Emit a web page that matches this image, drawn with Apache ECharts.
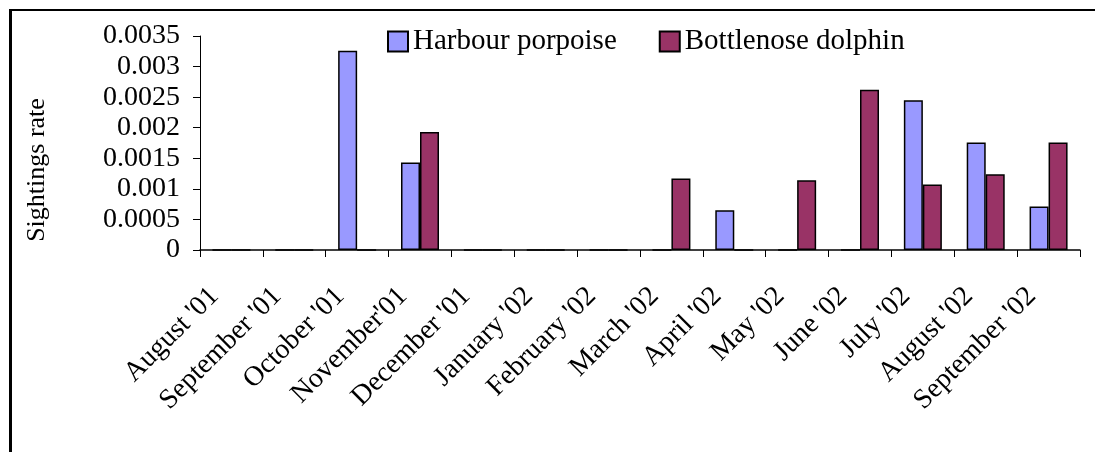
<!DOCTYPE html>
<html>
<head>
<meta charset="utf-8">
<script src="https://cdn.jsdelivr.net/npm/echarts@6/dist/echarts.min.js"></script>
<style>
    html, body { margin: 0; padding: 0; background: #fff; }
    #frame {
        position: absolute; left: 9px; top: 9px; width: 1100px; height: 460px;
        border-top: 2px solid #000; border-left: 3px solid #000;
    }
    #chart { position: absolute; left: 0; top: 0; width: 1095px; height: 452px; }
</style>
</head>
<body>
<div id="frame"></div>
<div id="chart"></div>
<script>
const months = ["August '01", "September '01", "October '01", "November'01", "December '01",
    "January '02", "February '02", "March '02", "April '02", "May '02", "June '02",
    "July '02", "August '02", "September '02"];
const porpoise = [0, 0, 0.00326, 0.00143, 0, 0, 0, 0, 0.00065, 0, 0, 0.00245, 0.00176, 0.00071];
const dolphin = [0, 0, 0, 0.00193, 0, 0, 0, 0.00117, 0, 0.00114, 0.00262, 0.00107, 0.00124, 0.00176];

const serif = '"Liberation Serif", "Times New Roman", serif';

function init() {
    const chart = echarts.init(document.getElementById('chart'), null, {renderer: 'canvas'});
    const option = {
        animation: false,
        textStyle: { fontFamily: serif, color: '#000' },
        legend: {
            left: 382,
            top: 22,
            itemWidth: 20,
            itemHeight: 20,
            itemGap: 42,
            icon: 'rect',
            textStyle: { fontFamily: serif, fontSize: 29, color: '#000' },
            data: ['Harbour porpoise', 'Bottlenose dolphin']
        },
        grid: { left: 200, right: 15, top: 36, bottom: 202 },
        xAxis: {
            type: 'category',
            data: months,
            boundaryGap: true,
            axisLine: { lineStyle: { color: '#000', width: 1.5 } },
            axisTick: { show: true, length: 7, interval: 0, lineStyle: { color: '#000', width: 1 } },
            axisLabel: {
                interval: 0,
                rotate: 45,
                margin: 25,
                padding: [0, 24, 0, 0],
                fontFamily: serif,
                fontSize: 28,
                color: '#000'
            }
        },
        yAxis: {
            type: 'value',
            min: 0,
            max: 0.0035,
            interval: 0.0005,
            name: 'Sightings rate',
            nameLocation: 'middle',
            nameRotate: 90,
            nameGap: 150,
            nameTextStyle: { fontFamily: serif, fontSize: 26, color: '#000', padding: [0, 54, 0, 0] },
            axisLine: { show: true, lineStyle: { color: '#000', width: 1 } },
            axisTick: { show: true, length: 7, lineStyle: { color: '#000' } },
            splitLine: { show: false },
            axisLabel: { margin: 20, fontFamily: serif, fontSize: 28, color: '#000' }
        },
        series: [
            {
                name: 'Harbour porpoise',
                type: 'bar',
                data: porpoise,
                barWidth: 19,
                barGap: '0%',
                itemStyle: { color: '#9999FF', borderColor: '#000', borderWidth: 1.5 }
            },
            {
                name: 'Bottlenose dolphin',
                type: 'bar',
                data: dolphin,
                barWidth: 19,
                barGap: '0%',
                itemStyle: { color: '#993366', borderColor: '#000', borderWidth: 1.5 }
            }
        ]
    };
    chart.setOption(option);
}

init();
</script>
</body>
</html>
